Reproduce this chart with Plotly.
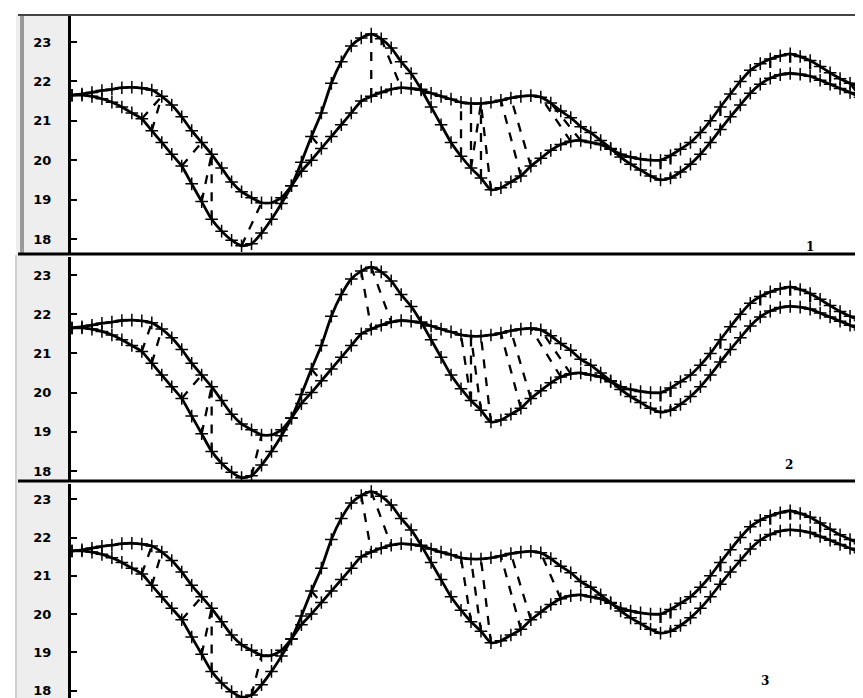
import plotly.graph_objects as go

# sample index (one step ~ one sampling period)
t = list(range(80))

# curve A (deep swing)
curve_a = [21.65, 21.65, 21.62, 21.56, 21.47, 21.35, 21.2, 21.05, 20.75, 20.45,
           20.15, 19.85, 19.4, 18.95, 18.5, 18.2, 17.97, 17.83, 17.88, 18.15,
           18.5, 18.9, 19.35, 19.95, 20.6, 21.2, 21.95, 22.5, 22.9, 23.1,
           23.2, 23.08, 22.85, 22.5, 22.2, 21.8, 21.35, 20.9, 20.45, 20.1,
           19.8, 19.55, 19.25, 19.3, 19.45, 19.6, 19.85, 20.05, 20.25, 20.4,
           20.48, 20.5, 20.45, 20.4, 20.28, 20.15, 20.08, 20.03, 20.0, 20.0,
           20.12, 20.28, 20.45, 20.7, 21.0, 21.35, 21.68, 22.0, 22.28, 22.45,
           22.57, 22.65, 22.7, 22.63, 22.53, 22.38, 22.22, 22.07, 21.95, 21.84]

# curve B (reference)
curve_b = [21.65, 21.68, 21.72, 21.77, 21.8, 21.84, 21.85, 21.83, 21.78, 21.62,
           21.4, 21.1, 20.75, 20.45, 20.15, 19.8, 19.45, 19.2, 19.05, 18.92,
           18.92, 19.05, 19.35, 19.72, 20.0, 20.3, 20.6, 20.9, 21.2, 21.5,
           21.62, 21.72, 21.8, 21.84, 21.82, 21.78, 21.7, 21.62, 21.55, 21.47,
           21.44, 21.44, 21.47, 21.52, 21.58, 21.62, 21.64, 21.6, 21.45, 21.25,
           21.08, 20.85, 20.7, 20.5, 20.3, 20.08, 19.9, 19.75, 19.6, 19.5,
           19.55, 19.7, 19.9, 20.15, 20.45, 20.78, 21.1, 21.4, 21.7, 21.93,
           22.08, 22.17, 22.2, 22.18, 22.13, 22.03, 21.93, 21.82, 21.72, 21.6]

# alignment pairs (index in A, index in B) for each panel
align_1 = [(7, 9), (8, 9), (11, 13), (13, 14), (14, 14), (17, 19), (24, 25),
           (30, 30), (31, 33), (39, 39), (40, 40), (40, 41), (41, 41), (42, 41),
           (45, 43), (46, 44), (50, 47), (51, 48), (59, 59), (60, 60), (65, 65),
           (70, 70), (72, 72), (74, 74), (76, 76), (78, 79)]
align_2 = [(7, 8), (8, 9), (11, 13), (13, 14), (14, 14), (18, 19), (24, 25),
           (29, 30), (30, 32), (40, 39), (40, 40), (41, 40), (42, 41),
           (45, 43), (46, 44), (49, 46), (50, 47), (59, 59), (60, 60), (65, 65),
           (69, 69), (72, 72), (74, 74), (77, 77), (79, 79)]
align_3 = [(7, 8), (8, 9), (11, 13), (13, 14), (14, 14), (18, 19), (24, 25),
           (29, 30), (30, 32), (40, 39), (41, 40), (42, 41),
           (45, 43), (46, 44), (49, 47), (59, 59), (60, 60), (65, 65),
           (70, 70), (72, 72), (75, 75), (79, 79)]

panel_labels = ["1", "2", "3"]
y_ticks = [18, 19, 20, 21, 22, 23]

W, H = 863, 698
def px(x):
    return x / W
def py(y):
    return 1 - y / H

domains = [[py(245), py(7)], [py(472), py(249)], [py(694), py(476)]]
yranges = [[17.645, 23.685], [17.77, 23.46], [17.70, 23.40]]
label_pos = [(808, 230), (787, 457), (763, 682)]
aligns = [align_1, align_2, align_3]

fig = go.Figure()
for k in range(3):
    xa = "x" if k == 0 else f"x{k+1}"
    ya = "y" if k == 0 else f"y{k+1}"
    # alignment lines
    lx, ly = [], []
    for i, j in aligns[k]:
        lx += [t[i], t[j], None]
        ly += [curve_a[i], curve_b[j], None]
    fig.add_trace(go.Scatter(x=lx, y=ly, mode="lines", xaxis=xa, yaxis=ya,
                             line=dict(color="black", width=2.3, dash="dash"),
                             showlegend=False, hoverinfo="skip"))
    for series in (curve_a, curve_b):
        fig.add_trace(go.Scatter(
            x=t, y=series, mode="lines+markers", xaxis=xa, yaxis=ya,
            line=dict(color="black", width=2.8, shape="spline", smoothing=0.6),
            marker=dict(symbol="cross-thin", size=9, color="black",
                        line=dict(color="black", width=1.5)),
            showlegend=False))

layout = dict(width=W, height=H, margin=dict(l=0, r=0, t=0, b=0),
              paper_bgcolor="white", plot_bgcolor="white")

shapes = []
# left gray strip
shapes.append(dict(type="rect", xref="paper", yref="paper", x0=px(8), x1=px(61),
                   y0=0, y1=py(7), fillcolor="#eeeeee", line=dict(width=0), layer="below"))
shapes.append(dict(type="line", xref="paper", yref="paper", x0=px(14), x1=px(14),
                   y0=py(245), y1=py(7), line=dict(color="#9a9a9a", width=4)))
shapes.append(dict(type="line", xref="paper", yref="paper", x0=px(8), x1=px(8),
                   y0=py(698), y1=py(247), line=dict(color="#cfcfcf", width=2)))
# frame lines
shapes.append(dict(type="line", xref="paper", yref="paper", x0=px(10), x1=px(860),
                   y0=py(7), y1=py(7), line=dict(color="#444444", width=2)))
shapes.append(dict(type="line", xref="paper", yref="paper", x0=px(860), x1=px(860),
                   y0=py(698), y1=py(7), line=dict(color="#999999", width=1.5)))
for yy in (246, 473):
    shapes.append(dict(type="line", xref="paper", yref="paper", x0=px(10), x1=1,
                       y0=py(yy), y1=py(yy), line=dict(color="black", width=3)))
layout["shapes"] = shapes

annotations = []
for k in range(3):
    xa = "xaxis" if k == 0 else f"xaxis{k+1}"
    yax = "yaxis" if k == 0 else f"yaxis{k+1}"
    layout[xa] = dict(domain=[px(63), px(860)], range=[-0.1, 79.8],
                      showgrid=False, zeroline=False, showticklabels=False,
                      ticks="", showline=False, anchor="y" if k == 0 else f"y{k+1}")
    layout[yax] = dict(domain=domains[k], range=yranges[k], tickvals=y_ticks,
                       ticktext=[str(v) for v in y_ticks],
                       ticks="inside", ticklen=6, tickwidth=2, tickcolor="black",
                       showline=True, linewidth=3, linecolor="black",
                       showgrid=False, zeroline=False,
                       ticklabelstandoff=14,
                       tickfont=dict(family="DejaVu Sans", size=13, color="black",
                                     weight="bold"),
                       anchor="x" if k == 0 else f"x{k+1}")
    lxp, lyp = label_pos[k]
    annotations.append(dict(xref="paper", yref="paper", x=px(lxp), y=py(lyp),
                            text=panel_labels[k], showarrow=False,
                            font=dict(family="DejaVu Serif", size=12, color="black",
                                      weight="bold")))
layout["annotations"] = annotations

fig.update_layout(**layout)
fig.write_html("out.html")
